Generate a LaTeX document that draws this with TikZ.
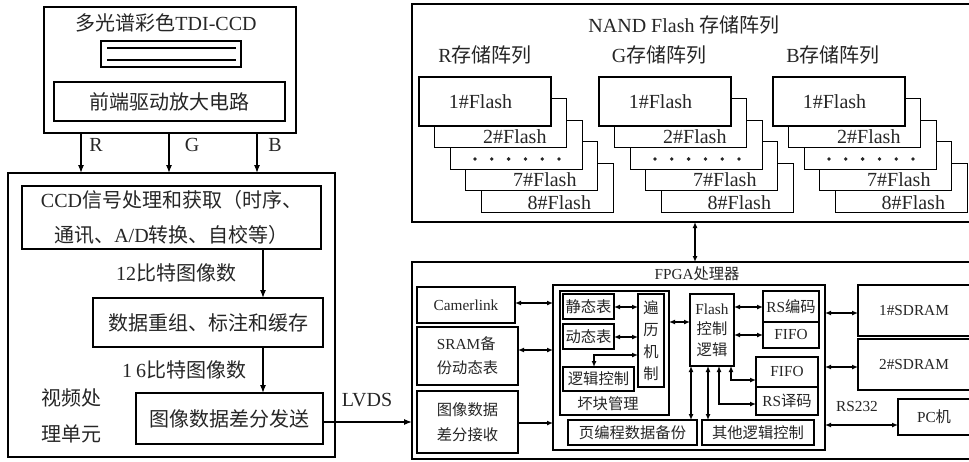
\documentclass[tikz,border=0pt]{standalone}
\usepackage{fontspec}
\setmainfont{Liberation Serif}
\newfontfamily\cjk{Noto Sans CJK SC}
\usetikzlibrary{arrows.meta}
\tikzset{
  bx/.style={draw, inner sep=0pt, outer sep=0pt, line width=1.5pt, fill=white, text=black!85, align=center},
  thinbx/.style={line width=1pt},
  thickbx/.style={line width=2pt},
  big/.style={font=\fontsize{20}{35}\selectfont},
  sm/.style={font=\fontsize{15.3}{21}\selectfont},
  lbl/.style={inner sep=0pt, outer sep=0pt, text=black!85, align=center},
  arr/.style={line width=1.2pt, -{Latex[length=8pt,width=6pt]}},
  darr/.style={line width=1.2pt, {Latex[length=6pt,width=5pt]}-{Latex[length=6pt,width=5pt]}},
  sarr/.style={line width=1.2pt, -{Latex[length=6pt,width=5pt]}},
}
% #1 options, #2 name, #3 x1, #4 y1, #5 x2, #6 y2, #7 text
\newcommand\mybox[7][]{\node[bx,minimum width={((#5)-(#3))*1pt},minimum height={((#6)-(#4))*1pt},#1] (#2) at ({((#3)+(#5))/2},{((#4)+(#6))/2}) {#7};}
\newcommand\flashstack[2]{%
  \mybox[thinbx]{#1e}{#2+62}{163}{#2+194}{212}{}
  \node[lbl,big,anchor=east] at ([xshift=-22pt,yshift=9.5pt]#1e.south east) {8\#Flash};
  \mybox[thinbx]{#1d}{#2+46.5}{141.5}{#2+178.5}{190.5}{}
  \node[lbl,big,anchor=east] at ([xshift=-21pt,yshift=10.5pt]#1d.south east) {7\#Flash};
  \mybox[thinbx]{#1c}{#2+31}{120}{#2+163}{169}{}
  \foreach \i in {0,...,5} \fill[black!85] ({#2+56+16.8*\i},159) circle (1.9pt);
  \mybox[thinbx]{#1b}{#2+15.5}{98.5}{#2+147.5}{147.5}{}
  \node[lbl,big,anchor=east] at ([xshift=-20pt,yshift=10.5pt]#1b.south east) {2\#Flash};
  \mybox[thickbx,big]{#1a}{#2}{77}{#2+132}{126}{\hspace*{-9pt}1\#Flash}
}
\begin{document}
\begin{tikzpicture}[x=1pt,y=-1pt]
\useasboundingbox (0,0) rectangle (969,461);
\clip (0,0) rectangle (969,461);
% helper coordinates
\coordinate (XR) at (81,0);
\coordinate (XG) at (169,0);
\coordinate (XB) at (257,0);
\coordinate (X263) at (263,0);
\coordinate (X695) at (695,0);
\coordinate (X594) at (594,0);
\coordinate (X731) at (731,0);
\coordinate (X719) at (719,0);
\coordinate (X691) at (691,0);
\coordinate (X708) at (708,0);
\coordinate (Y422) at (0,422);
\coordinate (Y303) at (0,303);
\coordinate (Y350) at (0,350);
\coordinate (Y423) at (0,423);
\coordinate (Y307) at (0,307);
\coordinate (Y337) at (0,337);
\coordinate (Y355) at (0,355);
\coordinate (Y322) at (0,322);
\coordinate (Y335) at (0,335);
\coordinate (Y380) at (0,380);
\coordinate (Y404) at (0,404);
\coordinate (Y313) at (0,313);
\coordinate (Y367) at (0,367);
\coordinate (Y425) at (0,425);

% ---------------- left: CCD ----------------
\mybox[thickbx]{ccd}{44}{7}{296}{133}{}
\node[lbl,big] (ccdt) at (166,23) {{\cjk 多光谱彩色}TDI-CCD};
\mybox[line width=1.5pt]{sensor}{101}{41}{241}{67}{}
\draw[line width=2.5pt] (107,48) -- (236,48);
\draw[line width=2.5pt] (107,60) -- (236,60);
\mybox[big]{front}{54}{82}{285}{121}{\cjk 前端驱动放大电路}

% ---------------- left: video processing ----------------
\mybox[thickbx]{vid}{8}{173}{335}{457}{}
\draw[arr] (ccd.south -| XR) -- (vid.north -| XR);
\draw[arr] (ccd.south -| XG) -- (vid.north -| XG);
\draw[arr] (ccd.south -| XB) -- (vid.north -| XB);
\node[lbl,big] at (96,145) {R};
\node[lbl,big] at (192,145) {G};
\node[lbl,big] at (275,145) {B};

\mybox[big]{sig}{22}{186}{321}{249}{CCD{\cjk 信号处理和获取（时序、}\\{\cjk 通讯、}A/D{\cjk 转换、自校等）}}
\mybox[big]{reg}{93}{298}{323}{347}{\cjk 数据重组、标注和缓存}
\mybox[big]{send}{136}{393}{323}{444}{\cjk 图像数据差分发送}
\draw[arr] (sig.south -| X263) -- (reg.north -| X263);
\draw[arr] (reg.south -| X263) -- (send.north -| X263);
\node[lbl,big] at (176,273) {12{\cjk 比特图像数}};
\node[lbl,big] at (184,370) {1\hspace{4pt}6{\cjk 比特图像数}};
\node[lbl,font=\fontsize{20}{36}\selectfont] at (71,416) {\cjk 视频处\\\cjk 理单元};

% ---------------- NAND flash ----------------
\mybox[thickbx]{nand}{412}{4}{975}{222}{}
\node[lbl,big] at (684,25) {NAND Flash {\cjk 存储阵列}};
\node[lbl,big] at (485,55) {R{\cjk 存储阵列}};
\node[lbl,big] at (659,55) {G{\cjk 存储阵列}};
\node[lbl,big] at (833,55) {B{\cjk 存储阵列}};
\flashstack{R}{419}
\flashstack{G}{599}
\flashstack{B}{773}

% ---------------- FPGA ----------------
\mybox[thickbx]{fpga}{412}{262}{975}{459}{}
\draw[darr] (nand.south -| X695) -- (fpga.north -| X695);
\draw[arr] (send.east |- Y422) -- (fpga.west |- Y422);
\node[lbl,big] at (367,400) {LVDS};
\node[lbl,sm] at (697,274) {FPGA{\cjk 处理器}};

\mybox[sm]{cam}{417}{287}{515}{323}{Camerlink}
\mybox[font=\fontsize{15.3}{24}\selectfont,align=left]{sram}{417}{327}{518}{385}{SRAM{\cjk 备}\\{\cjk 份动态表}}
\mybox[font=\fontsize{15.3}{25}\selectfont]{recv}{417}{391}{518}{453}{{\cjk 图像数据}\\{\cjk 差分接收}}
\mybox{inner}{553}{285}{825}{450}{}
\draw[darr] (cam.east |- Y303) -- (inner.west |- Y303);
\draw[darr] (sram.east |- Y350) -- (inner.west |- Y350);
\draw[sarr] (recv.east |- Y423) -- (inner.west |- Y423);

\mybox{bad}{560}{291}{669}{415}{}
\node[lbl,sm] at (608,404) {\cjk 坏块管理};
\mybox[sm]{static}{563}{294}{614}{319}{\cjk 静态表}
\mybox[sm]{dyn}{563}{324}{614}{349}{\cjk 动态表}
\mybox[font=\fontsize{15.3}{22}\selectfont]{trav}{638}{294}{664}{387}{\cjk 遍\\\cjk 历\\\cjk 机\\\cjk 制}
\mybox[sm]{logic}{563}{367}{634}{391}{\cjk 逻辑控制}
\draw[darr] (static.east |- Y307) -- (trav.west |- Y307);
\draw[darr] (dyn.east |- Y337) -- (trav.west |- Y337);
\draw[darr] (trav.west |- Y355) -| (logic.north -| X594);

\mybox[font=\fontsize{15.3}{20.5}\selectfont]{flash}{690}{294}{734}{366}{Flash\\{\cjk 控制}\\{\cjk 逻辑}}
\draw[darr] (bad.east |- Y322) -- (flash.west |- Y322);
\mybox[sm]{rsenc}{763}{291}{819}{322}{RS{\cjk 编码}}
\mybox[sm]{fifoa}{763}{322}{819}{348}{FIFO}
\mybox[sm]{fifob}{756}{357}{818}{387}{FIFO}
\mybox[sm]{rsdec}{756}{387}{818}{415}{RS{\cjk 译码}}
\draw[darr] (flash.east |- Y307) -- (rsenc.west |- Y307);
\draw[darr] (flash.east |- Y335) -- (fifoa.west |- Y335);
\draw[darr] (flash.south -| X731) |- (fifob.west |- Y380);
\draw[darr] (flash.south -| X719) |- (rsdec.west |- Y404);

\mybox[sm]{page}{568}{420}{697}{445}{\cjk 页编程数据备份}
\mybox[sm]{other}{702}{420}{814}{445}{\cjk 其他逻辑控制}
\draw[darr] (flash.south -| X691) -- (page.north -| X691);
\draw[darr] (flash.south -| X708) -- (other.north -| X708);

\mybox[sm]{sdA}{858}{285}{970}{336}{1\#SDRAM}
\mybox[sm]{sdB}{858}{339}{970}{390}{2\#SDRAM}
\mybox[sm]{pc}{898}{399}{970}{435}{PC{\cjk 机}}
\draw[darr] (inner.east |- Y313) -- (sdA.west |- Y313);
\draw[darr] (inner.east |- Y367) -- (sdB.west |- Y367);
\draw[darr] (inner.east |- Y425) -- (pc.west |- Y425);
\node[lbl,sm] at (857,407) {RS232};
\end{tikzpicture}
\end{document}
